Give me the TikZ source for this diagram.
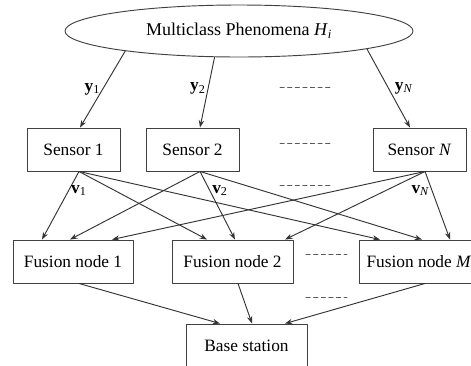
\documentclass[tikz,border=0pt]{standalone}
\usepackage{fontspec}
\setmainfont{Liberation Serif}
\usetikzlibrary{arrows.meta,shapes.geometric,calc}

\begin{document}
\begin{tikzpicture}[x=0.75pt,y=-0.75pt,line cap=round,line join=round,
    >={Stealth[length=5.5pt,width=4pt]},
    box/.style={draw=black!75,line width=0.7pt,minimum width=69.75pt,minimum height=32.25pt,
      inner sep=0pt,font=\fontsize{13}{15}\selectfont},
    link/.style={->,draw=black!80,line width=0.7pt},
    dots/.style={draw=black!65,line width=0.6pt,dash pattern=on 3.2pt off 2.5pt},
    lbl/.style={font=\fontsize{13}{15}\selectfont,inner sep=1.5pt}]
    \useasboundingbox (0,0) rectangle (471,365);
    % phenomena and sensors
    \node [ellipse,draw=black!75,line width=0.7pt,minimum width=261pt,minimum height=39pt,inner sep=0pt,
      font=\fontsize{13.5}{15}\selectfont] (phen) at (239,31) {Multiclass Phenomena \textit{H}\textsubscript{\textit{i}}};
    \node [box] (s1) at (73.5,149.5) {Sensor 1};
    \node [box] (s2) at (192.5,149.5) {Sensor 2};
    \node [box] (sN) at (419.5,149.5) {Sensor \textit{N}};
    % fusion nodes and base station
    \node [box,minimum width=90pt] (f1) at (73,261.5) {Fusion node 1};
    \node [box,minimum width=90.75pt] (f2) at (232.5,261.5) {Fusion node 2};
    \node [box,minimum width=90pt] (fM) at (419,261.5) {Fusion node \textit{M}};
    \node [box,minimum width=90.75pt] (base) at (246.5,345.5) {Base station};
    % observations
    \draw [link] (phen.190) -- node [lbl,left,pos=0.5] {\textbf{y}\textsubscript{1}} ($(s1.north)+(6.5,0)$);
    \draw [link] (phen.227) -- node [lbl,left,pos=0.45] {\textbf{y}\textsubscript{2}} ($(s2.north)+(7.5,0)$);
    \draw [link] (phen.352) -- node [lbl,right,pos=0.5,xshift=3pt] {\textbf{y}\textsubscript{\textit{N}}} ($(sN.north)+(-9.5,0)$);
    % sensor outputs
    \coordinate (o1) at ($(s1.south)+(5.5,0)$);
    \coordinate (o2) at ($(s2.south)+(7.5,0)$);
    \coordinate (oN) at ($(sN.south)+(5.5,0)$);
    \draw [link] (o1) -- node [lbl,right,pos=0.28] {\textbf{v}\textsubscript{1}} ($(f1.north)+(-31,0)$);
    \draw [link] (o1) -- ($(f2.north)+(-25.5,0)$);
    \draw [link] (o1) -- ($(fM.north)+(-39,0)$);
    \draw [link] (o2) -- ($(f1.north)+(-3,0)$);
    \draw [link] (o2) -- node [lbl,right,pos=0.28] {\textbf{v}\textsubscript{2}} ($(f2.north)+(2.5,0)$);
    \draw [link] (o2) -- ($(fM.north)+(3,0)$);
    \draw [link] (oN) -- ($(f1.north)+(39,0)$);
    \draw [link] (oN) -- ($(f2.north)+(52.5,0)$);
    \draw [link] (oN) -- node [lbl,left,pos=0.28] {\textbf{v}\textsubscript{\textit{N}}} ($(fM.north)+(31,0)$);
    % fusion outputs
    \draw [link] ($(f1.south)+(6,0)$) -- ($(base.north)+(-26.5,0)$);
    \draw [link] ($(f2.south)+(5.5,0)$) -- ($(base.north)+(5.5,0)$);
    \draw [link] ($(fM.south)+(6,0)$) -- ($(base.north)+(38.5,0)$);
    % ellipsis dashes
    \draw [dots] (280,87) -- (330,87);
    \draw [dots] (280,143) -- (330,143);
    \draw [dots] (280,185) -- (330,185);
    \draw [dots] (306,254) -- (347,254);
    \draw [dots] (306,297) -- (347,297);
\end{tikzpicture}
\end{document}
